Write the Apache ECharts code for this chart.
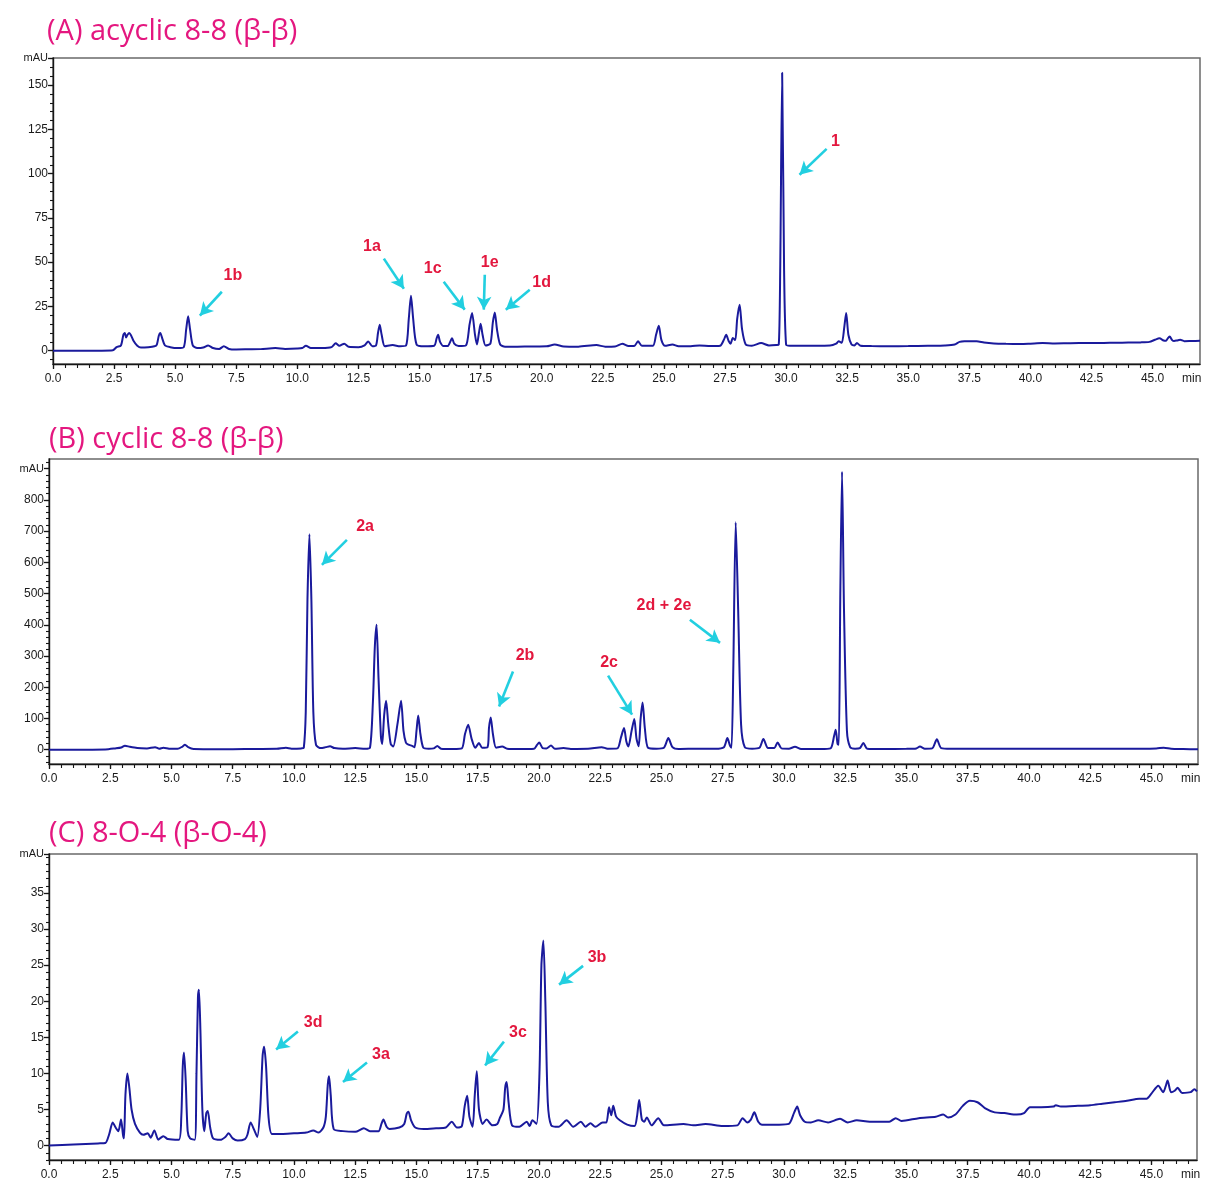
<!DOCTYPE html>
<html>
<head>
<meta charset="utf-8">
<title>HPLC chromatograms of lignan dimers</title>
<script src="https://cdn.jsdelivr.net/npm/echarts@6/dist/echarts.min.js"></script>
<style>
  html, body { margin: 0; padding: 0; background: #ffffff; }
  #chart { width: 1206px; height: 1182px; }
</style>
</head>
<body>
<div id="chart"></div>
<script>
// ---- Chromatogram traces: [retention time (min), absorbance (mAU)] ----
const traceA = [
  [0,0],[1.0,0],[2.0,0],[2.45,0.2],[2.6,2],[2.78,3],[2.88,9],[2.94,10],[2.99,7.5],[3.05,9],[3.12,10],[3.2,8.5],
  [3.3,5.5],[3.45,2.8],[3.6,1.8],[3.9,2],[4.15,2.5],[4.25,3.5],[4.33,8.5],[4.39,10],[4.47,7],[4.58,3],[4.8,2],
  [5.1,1.5],[5.35,2],[5.45,12],[5.53,19.4],[5.61,12],[5.72,3],[5.9,1.5],[6.15,1.8],[6.35,3],[6.55,1.5],[6.8,1],
  [6.99,2.5],[7.2,1],[7.5,0.7],[8.0,0.8],[8.5,0.9],[9.1,1.5],[9.5,1],[10.0,1.2],[10.2,1.5],[10.35,2.8],[10.55,1.6],
  [11.0,1.5],[11.4,2],[11.57,4.2],[11.72,2.8],[11.92,4],[12.1,2.2],[12.5,2],[12.75,3],[12.9,5.2],[13.07,2.5],
  [13.22,3],[13.3,10],[13.37,14.7],[13.45,9],[13.58,2.5],[13.9,3.2],[14.2,2.5],[14.45,3],[14.56,18],[14.65,31],
  [14.74,18],[14.88,3.5],[15.2,2.5],[15.6,2.8],[15.7,7],[15.76,9],[15.84,5],[15.98,2.6],[16.15,2.6],[16.27,5.5],
  [16.33,7.1],[16.42,4],[16.6,2.6],[16.9,3],[17.05,15],[17.15,21.3],[17.27,9],[17.35,3.5],[17.43,10],[17.5,15.2],
  [17.58,9],[17.7,3],[17.9,4],[18.0,16],[18.08,21.6],[18.17,12],[18.3,3.5],[18.5,2.3],[19.0,2.3],[19.6,2.4],
  [20.2,2.5],[20.53,3.5],[20.9,2.4],[21.5,2.3],[22.24,3.2],[22.6,2.3],[23.0,2.4],[23.3,4],[23.55,2.6],[23.8,2.8],
  [23.94,5.3],[24.1,2.8],[24.55,2.8],[24.68,9],[24.79,14.1],[24.9,6],[25.05,2.8],[25.35,3.5],[25.6,2.5],[26.1,2.5],
  [26.46,3],[26.9,2.6],[27.3,2.8],[27.45,6],[27.55,9],[27.65,5.5],[27.73,4],[27.82,7.2],[27.92,6],[28.0,18],
  [28.1,26],[28.2,12],[28.35,3.5],[28.6,2.8],[28.98,4.3],[29.3,3],[29.6,3.2],[29.7,3.4],[29.76,45],[29.84,157],
  [29.92,45],[30.0,3.5],[30.15,2.8],[30.6,2.8],[31.2,2.8],[31.8,2.9],[32.05,4],[32.15,5.3],[32.28,4.5],[32.38,13],
  [32.46,21.3],[32.55,9],[32.68,3.5],[32.8,3],[32.9,4.3],[33.05,2.8],[33.5,2.6],[34.2,2.5],[35.0,2.6],[35.8,2.8],
  [36.5,3],[36.9,3.5],[37.1,5],[37.3,5.3],[37.8,5.3],[38.1,4.6],[38.5,4.1],[39.0,3.9],[39.6,3.8],[40.0,4.0],
  [40.5,4.3],[41.0,4.1],[41.5,4.2],[42.0,4.3],[42.5,4.3],[43.0,4.4],[43.5,4.5],[44.0,4.6],[44.5,4.7],[44.87,5],
  [45.1,6.2],[45.28,7],[45.45,5.8],[45.55,5.6],[45.62,7],[45.7,8],[45.8,6],[45.88,5.5],[46.0,5.8],[46.13,6.2],
  [46.3,5.4],[46.6,5.5],[46.94,5.6]
];

const traceB = [
  [0,0],[1.5,0],[2.3,0.5],[2.7,4],[2.95,7],[3.1,12.8],[3.3,9],[3.6,5],[4.0,4],[4.33,8],[4.5,3],[4.67,6],[4.9,3],
  [5.25,2.5],[5.45,10],[5.55,16],[5.68,8],[5.9,2],[6.5,1.5],[7.5,1.5],[8.5,2],[9.3,2.5],[9.67,6],[9.9,3],[10.3,4],
  [10.4,6],[10.48,120],[10.55,480],[10.63,690],[10.71,480],[10.79,120],[10.9,15],[11.1,5],[11.3,8],[11.47,10.7],
  [11.65,5],[12.0,3],[12.5,5],[12.9,3],[13.1,6],[13.22,150],[13.3,330],[13.37,400],[13.45,230],[13.55,40],
  [13.6,18],[13.68,110],[13.76,157],[13.85,80],[13.95,18],[14.05,10],[14.22,80],[14.37,157],[14.47,60],[14.57,22],
  [14.67,16],[14.82,12],[14.92,8],[15.0,60],[15.07,109],[15.16,50],[15.28,6],[15.5,3],[15.7,4],[15.85,12],[16.0,3],
  [16.5,2],[16.85,4],[16.98,50],[17.11,80],[17.25,35],[17.4,6],[17.55,21],[17.68,6],[17.9,8],[17.96,70],[18.03,103],
  [18.12,50],[18.25,6],[18.5,10],[18.7,3],[19.2,2],[19.8,3],[19.92,15],[20.01,23],[20.15,5],[20.3,4],[20.49,13],
  [20.65,3],[21.0,5],[21.3,2],[22.0,2.5],[22.56,8],[22.8,3],[23.2,4],[23.35,40],[23.47,69],[23.57,25],[23.65,10],
  [23.78,60],[23.89,98],[23.98,35],[24.07,11],[24.15,100],[24.23,151],[24.32,70],[24.45,6],[24.8,3],[25.1,6],
  [25.28,37],[25.45,8],[25.7,2],[26.5,3],[27.2,3],[27.55,8],[27.69,37],[27.8,12],[27.86,6],[27.93,250],[28.03,728],
  [28.13,450],[28.25,80],[28.4,8],[28.7,3],[29.0,6],[29.16,34],[29.35,5],[29.6,5],[29.74,23],[29.9,4],[30.2,3],
  [30.45,9],[30.7,2],[31.5,2],[31.9,4],[32.05,45],[32.11,64],[32.19,18],[32.24,16],[32.3,500],[32.37,890],
  [32.45,450],[32.57,60],[32.7,8],[32.9,3],[33.1,5],[33.24,21],[33.4,3],[34.0,2],[35.0,2.5],[35.4,4],[35.55,10],
  [35.75,3],[36.05,4],[36.24,33],[36.42,5],[36.8,3],[38.0,3],[40.0,3],[42.0,3],[44.0,3],[45.2,4],[45.5,6],
  [45.8,3],[46.3,2],[46.9,1]
];

const traceC = [
  [0,0],[1.0,0.15],[2.0,0.3],[2.3,0.35],[2.45,1.5],[2.6,3.2],[2.72,2.5],[2.83,2],[2.94,3.6],[3.02,1.5],[3.06,1.0],
  [3.12,7],[3.2,10],[3.28,8],[3.37,5],[3.51,3],[3.71,1.8],[3.85,1.5],[4.03,1.7],[4.15,1.1],[4.3,2.1],[4.46,0.8],
  [4.57,1.1],[4.67,1.3],[4.85,0.9],[5.3,0.8],[5.4,4],[5.46,11],[5.51,12.9],[5.58,9],[5.66,2],[5.76,1.0],[5.95,0.8],
  [6.02,10],[6.08,20.5],[6.12,21.6],[6.18,16],[6.26,5],[6.34,2],[6.42,4.5],[6.48,4.8],[6.58,2.5],[6.7,1.0],
  [7.0,0.8],[7.2,1.2],[7.33,1.7],[7.5,1.0],[7.7,0.7],[8.0,0.9],[8.1,1.5],[8.23,3.2],[8.37,2.2],[8.5,1.2],[8.62,5],
  [8.72,12.5],[8.78,13.7],[8.86,11],[8.96,4],[9.1,1.6],[9.5,1.6],[10.0,1.7],[10.5,1.8],[10.79,2.1],[11.0,1.8],
  [11.2,2.5],[11.3,4],[11.38,8.5],[11.43,9.6],[11.5,7],[11.62,2.3],[12.0,2],[12.5,1.9],[12.85,2.4],[13.1,2],
  [13.45,2],[13.57,3],[13.65,3.6],[13.78,2.6],[13.9,2.3],[14.3,2.5],[14.5,3],[14.6,4.4],[14.67,4.7],[14.78,3.5],
  [14.95,2.5],[15.3,2.3],[15.8,2.4],[16.2,2.5],[16.44,3.3],[16.65,2.5],[16.85,2.7],[16.97,5.5],[17.07,6.9],
  [17.16,4],[17.29,2.6],[17.38,7],[17.46,10.3],[17.55,5],[17.7,3],[17.86,3.6],[18.1,2.8],[18.3,3],[18.4,3.8],
  [18.55,5],[18.62,8],[18.68,8.8],[18.76,6],[18.9,2.8],[19.2,2.6],[19.5,3.3],[19.62,2.7],[19.73,3.5],[19.9,3],
  [20.02,10],[20.1,25],[20.18,28.4],[20.26,20],[20.36,6],[20.5,2.8],[20.8,2.6],[21.13,3.5],[21.4,2.6],[21.71,3.3],
  [21.9,2.6],[22.1,3.1],[22.3,2.6],[22.6,3.2],[22.75,3.2],[22.86,5.3],[22.95,4.2],[23.03,5.5],[23.15,4],[23.3,3.5],
  [23.6,2.9],[23.9,2.7],[24.0,4],[24.09,6.3],[24.2,3.6],[24.3,3.3],[24.4,3.9],[24.6,2.8],[24.87,3.8],[25.1,2.8],
  [25.9,3],[26.3,2.8],[26.8,3],[27.5,2.7],[28.1,2.8],[28.31,3.8],[28.5,3.2],[28.65,3.6],[28.79,4.6],[28.95,3.3],
  [29.1,2.9],[29.8,2.9],[30.2,3],[30.42,4.6],[30.54,5.4],[30.66,4.2],[30.85,3.3],[31.1,3.2],[31.4,3.5],[31.8,3.2],
  [32.29,3.7],[32.6,3.2],[32.97,3.5],[33.5,3.3],[34.3,3.3],[34.56,3.8],[34.8,3.4],[35.5,3.8],[36.2,4.0],[36.5,4.3],
  [36.7,3.9],[37.0,4.3],[37.3,5.5],[37.59,6.2],[37.9,6.0],[38.2,5.2],[38.6,4.6],[39.0,4.5],[39.5,4.3],[39.8,4.5],
  [40.04,5.3],[40.5,5.3],[41.0,5.4],[41.1,5.6],[41.3,5.4],[42.0,5.5],[42.5,5.6],[43.0,5.8],[43.5,6.0],[44.0,6.2],
  [44.5,6.5],[44.8,6.5],[45.0,7.2],[45.28,8.3],[45.48,7.4],[45.58,8.2],[45.66,9.0],[45.8,7.4],[45.95,7.6],
  [46.07,8.0],[46.25,7.3],[46.6,7.4],[46.75,7.8],[46.86,7.5]
];

// ---- Axis tick labels ----
const timeTicks = [0, 2.5, 5, 7.5, 10, 12.5, 15, 17.5, 20, 22.5, 25, 27.5, 30, 32.5, 35, 37.5, 40, 42.5, 45];
const mauTicksA = [0, 25, 50, 75, 100, 125, 150];
const mauTicksB = [0, 100, 200, 300, 400, 500, 600, 700, 800];
const mauTicksC = [0, 5, 10, 15, 20, 25, 30, 35];

const panelTitles = ['(A) acyclic 8-8 (β-β)', '(B) cyclic 8-8 (β-β)', '(C) 8-O-4 (β-O-4)'];

// ---- Peak call-outs: label text, label anchor and arrow (data coordinates) ----
const calloutsA = [
  { label: '1b', at: [7.36, 42.3], from: [6.91, 33.3], to: [6.01, 19.8] },
  { label: '1a', at: [13.05, 58.7], from: [13.54, 52], to: [14.36, 35] },
  { label: '1c', at: [15.54, 46.3], from: [15.99, 39], to: [16.85, 23.2] },
  { label: '1e', at: [17.87, 49.7], from: [17.67, 42.9], to: [17.63, 23.2] },
  { label: '1d', at: [20.0, 38.4], from: [19.51, 34.4], to: [18.53, 23.2] },
  { label: '1', at: [32.02, 118], from: [31.66, 114], to: [30.55, 99.4] }
];
const calloutsB = [
  { label: '2a', at: [12.9, 713], from: [12.16, 672], to: [11.14, 592] },
  { label: '2b', at: [19.43, 301], from: [18.94, 250], to: [18.37, 138] },
  { label: '2c', at: [22.86, 278], from: [22.82, 237], to: [23.8, 112] },
  { label: '2d + 2e', at: [25.1, 461], from: [26.16, 416], to: [27.39, 342] }
];
const calloutsC = [
  { label: '3d', at: [10.78, 17.0], from: [10.16, 15.8], to: [9.27, 13.3] },
  { label: '3a', at: [13.55, 12.6], from: [12.98, 11.5], to: [12.0, 8.8] },
  { label: '3c', at: [19.14, 15.6], from: [18.57, 14.4], to: [17.8, 11.1] },
  { label: '3b', at: [22.37, 26.0], from: [21.8, 24.9], to: [20.82, 22.3] }
];

// ---- Panel layout ----
const panels = [
  { trace: traceA, callouts: calloutsA, ticks: mauTicksA, minorStep: 5, yMin: -7.5, yMax: 165.3, unitAt: 165.3,
    xMax: 46.94, grid: { left: 53, top: 58, width: 1147, height: 306 }, titleLeft: 47, titleTop: 17 },
  { trace: traceB, callouts: calloutsB, ticks: mauTicksB, minorStep: 20, yMin: -46, yMax: 931, unitAt: 900,
    xMax: 46.9, grid: { left: 49, top: 459, width: 1149, height: 305 }, titleLeft: 49, titleTop: 425 },
  { trace: traceC, callouts: calloutsC, ticks: mauTicksC, minorStep: 1, yMin: -2, yMax: 40.4, unitAt: 40.4,
    xMax: 46.86, grid: { left: 49, top: 854, width: 1148, height: 306 }, titleLeft: 49, titleTop: 819 }
];

const INK = '#161616';
const TICK_FONT = 'Liberation Sans, Arial, sans-serif';

function stepValues(lo, hi, step) {
  const out = [];
  const n = Math.floor((hi - lo) / step + 1e-9);
  for (let k = 0; k <= n; k++) out.push(+(lo + k * step).toFixed(6));
  return out;
}

const option = {
  animation: false,
  backgroundColor: '#ffffff',
  title: [],
  grid: [],
  xAxis: [],
  yAxis: [],
  series: []
};

panels.forEach((p, i) => {
  option.title.push({
    text: panelTitles[i],
    left: p.titleLeft,
    top: p.titleTop,
    padding: 0,
    textStyle: { fontFamily: 'Open Sans', fontSize: 29, fontWeight: 'normal', color: '#e4177f' }
  });

  option.grid.push(Object.assign({
    show: true, borderColor: '#6a6a6a', borderWidth: 1.5, backgroundColor: '#ffffff'
  }, p.grid));

  const minorY = stepValues(Math.ceil(p.yMin / p.minorStep) * p.minorStep, p.yMax, p.minorStep);
  const minorX = stepValues(0, p.xMax, 0.5);
  const labelY = p.ticks.concat([p.unitAt]);

  // time axis: major ticks with labels
  option.xAxis.push({
    gridIndex: i, type: 'value', min: 0, max: p.xMax, position: 'bottom',
    axisLine: { show: true, onZero: false, lineStyle: { color: INK, width: 1.4 } },
    axisTick: { show: true, length: 5, customValues: timeTicks, lineStyle: { color: INK, width: 1.3 } },
    axisLabel: {
      customValues: timeTicks.concat([46.6]),
      formatter: v => (v > 46 ? 'min' : v.toFixed(1)),
      fontFamily: TICK_FONT, fontSize: 12, color: '#1a1a1a', margin: 9
    },
    splitLine: { show: false }
  });
  // time axis: minor ticks
  option.xAxis.push({
    gridIndex: i, type: 'value', min: 0, max: p.xMax, position: 'bottom',
    axisLine: { show: false, onZero: false },
    axisTick: { show: true, length: 4, customValues: minorX, lineStyle: { color: INK, width: 1.1 } },
    axisLabel: { show: false },
    splitLine: { show: false }
  });

  // absorbance axis: major ticks with labels
  option.yAxis.push({
    gridIndex: i, type: 'value', min: p.yMin, max: p.yMax, position: 'left',
    axisLine: { show: true, onZero: false, lineStyle: { color: INK, width: 1.4 } },
    axisTick: { show: true, length: 5, customValues: labelY, lineStyle: { color: INK, width: 1.3 } },
    axisLabel: {
      customValues: labelY,
      formatter: v => (Math.abs(v - p.unitAt) < 1e-6 ? '{u|mAU}' : String(v)),
      fontFamily: TICK_FONT, fontSize: 12, color: '#1a1a1a', margin: 5,
      rich: { u: { fontFamily: TICK_FONT, fontSize: 11, color: '#1a1a1a' } }
    },
    splitLine: { show: false }
  });
  // absorbance axis: minor ticks
  option.yAxis.push({
    gridIndex: i, type: 'value', min: p.yMin, max: p.yMax, position: 'left',
    axisLine: { show: false, onZero: false },
    axisTick: { show: true, length: 3, customValues: minorY, lineStyle: { color: INK, width: 1.1 } },
    axisLabel: { show: false },
    splitLine: { show: false }
  });

  option.series.push({
    type: 'line',
    xAxisIndex: 2 * i,
    yAxisIndex: 2 * i,
    data: p.trace,
    symbol: 'none',
    showSymbol: false,
    smooth: 0.25,
    silent: true,
    lineStyle: { color: '#1a1a9c', width: 2 },
    markLine: {
      silent: true,
      symbol: ['none', 'arrow'],
      symbolSize: [11, 13],
      lineStyle: { color: '#22cfe0', width: 2.6, type: 'solid' },
      label: { show: false },
      emphasis: { disabled: true },
      data: p.callouts.map(c => [{ coord: c.from }, { coord: c.to }])
    },
    markPoint: {
      silent: true,
      symbol: 'circle',
      symbolSize: 1,
      itemStyle: { color: 'rgba(0,0,0,0)' },
      label: {
        show: true, position: 'inside', formatter: '{b}',
        fontFamily: TICK_FONT, fontWeight: 'bold', fontSize: 16, color: '#e3173e'
      },
      data: p.callouts.map(c => ({ name: c.label, coord: c.at }))
    }
  });
});

const chart = echarts.init(document.getElementById('chart'), null, { renderer: 'canvas' });
chart.setOption(option);
</script>
</body>
</html>
